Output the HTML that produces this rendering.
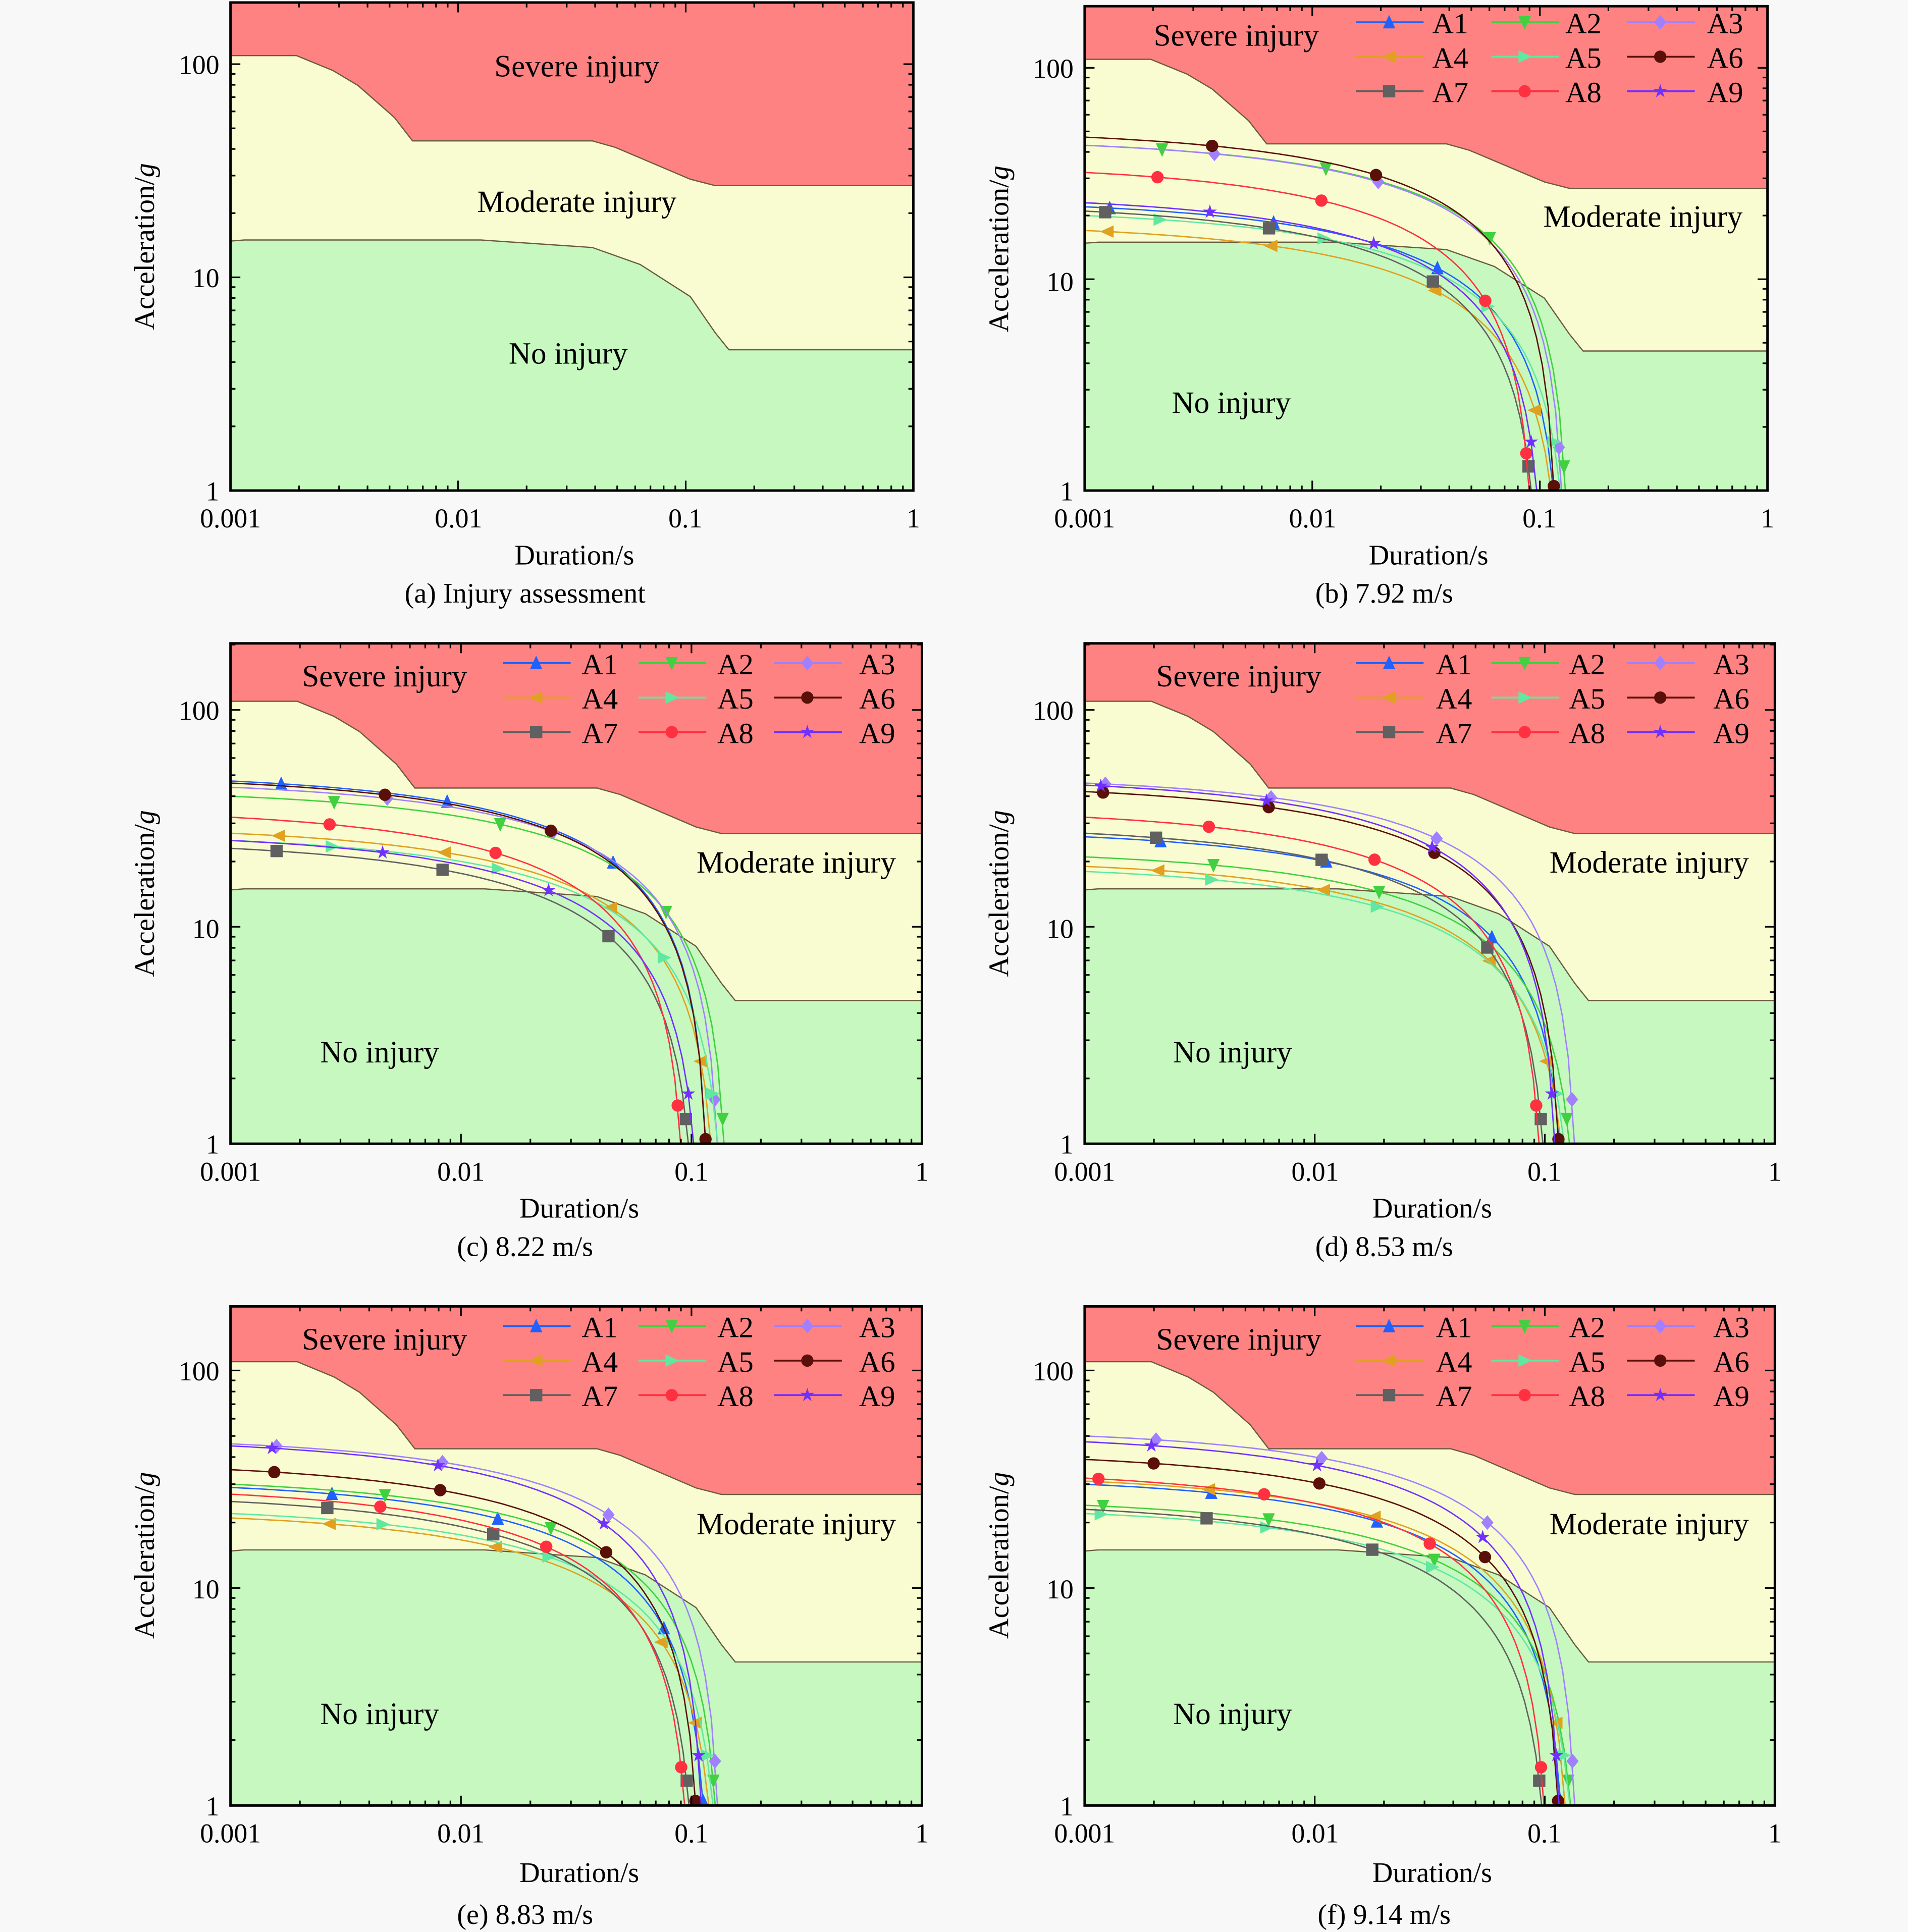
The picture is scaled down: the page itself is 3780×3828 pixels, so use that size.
<!DOCTYPE html>
<html><head><meta charset="utf-8"><style>
html,body{margin:0;padding:0;background:#f8f8f8;}
svg{display:block;}
text{font-family:"Liberation Serif",serif;fill:#000;}
.rl{font-size:25px;text-anchor:middle;}
.tk{font-size:22px;}
.tx{text-anchor:middle;}
.ty{text-anchor:end;}
.ax{font-size:23px;text-anchor:middle;}
.lg{font-size:24px;}
</style></head><body>
<svg id="s" width="3780" height="3828" viewBox="0 0 1548 1567.6" xmlns="http://www.w3.org/2000/svg">
<rect x="0" y="0" width="1548" height="1568" fill="#f8f8f8"/>
<g id="plots"></g>
<g id="texts">
<text class="rl" x="468" y="62">Severe injury</text>
<text class="rl" x="468" y="172">Moderate injury</text>
<text class="rl" x="461" y="295">No injury</text>
<text class="tk ty" x="178" y="60">100</text><text class="tk ty" x="178" y="233">10</text><text class="tk ty" x="178" y="406">1</text>
<text class="tk tx" x="187" y="428">0.001</text><text class="tk tx" x="372" y="428">0.01</text><text class="tk tx" x="556" y="428">0.1</text><text class="tk tx" x="741" y="428">1</text>
<text class="ax" x="466" y="458">Duration/s</text>
<text class="ax" x="426" y="489">(a) Injury assessment</text>
<text class="ax" transform="translate(125,200) rotate(-90)">Acceleration/<tspan font-style="italic">g</tspan></text>
<text class="rl" x="1003" y="37">Severe injury</text>
<text class="rl" x="1333" y="184">Moderate injury</text>
<text class="rl" x="999" y="335">No injury</text>
<text class="tk ty" x="871" y="63">100</text><text class="tk ty" x="871" y="236">10</text><text class="tk ty" x="871" y="406">1</text>
<text class="tk tx" x="880" y="428">0.001</text><text class="tk tx" x="1065" y="428">0.01</text><text class="tk tx" x="1249" y="428">0.1</text><text class="tk tx" x="1434" y="428">1</text>
<text class="ax" x="1159" y="458">Duration/s</text>
<text class="ax" x="1123" y="489">(b) 7.92 m/s</text>
<text class="ax" transform="translate(818,202) rotate(-90)">Acceleration/<tspan font-style="italic">g</tspan></text>
<text class="rl" x="312" y="557">Severe injury</text>
<text class="rl" x="646" y="708">Moderate injury</text>
<text class="rl" x="308" y="862">No injury</text>
<text class="tk ty" x="178" y="584">100</text><text class="tk ty" x="178" y="761">10</text><text class="tk ty" x="178" y="936">1</text>
<text class="tk tx" x="187" y="958">0.001</text><text class="tk tx" x="374" y="958">0.01</text><text class="tk tx" x="561" y="958">0.1</text><text class="tk tx" x="748" y="958">1</text>
<text class="ax" x="470" y="988">Duration/s</text>
<text class="ax" x="426" y="1019">(c) 8.22 m/s</text>
<text class="ax" transform="translate(125,725) rotate(-90)">Acceleration/<tspan font-style="italic">g</tspan></text>
<text class="rl" x="1005" y="557">Severe injury</text>
<text class="rl" x="1338" y="708">Moderate injury</text>
<text class="rl" x="1000" y="862">No injury</text>
<text class="tk ty" x="871" y="584">100</text><text class="tk ty" x="871" y="761">10</text><text class="tk ty" x="871" y="936">1</text>
<text class="tk tx" x="880" y="958">0.001</text><text class="tk tx" x="1067" y="958">0.01</text><text class="tk tx" x="1253" y="958">0.1</text><text class="tk tx" x="1440" y="958">1</text>
<text class="ax" x="1162" y="988">Duration/s</text>
<text class="ax" x="1123" y="1019">(d) 8.53 m/s</text>
<text class="ax" transform="translate(818,725) rotate(-90)">Acceleration/<tspan font-style="italic">g</tspan></text>
<text class="rl" x="312" y="1095">Severe injury</text>
<text class="rl" x="646" y="1245">Moderate injury</text>
<text class="rl" x="308" y="1399">No injury</text>
<text class="tk ty" x="178" y="1120">100</text><text class="tk ty" x="178" y="1297">10</text><text class="tk ty" x="178" y="1473">1</text>
<text class="tk tx" x="187" y="1495">0.001</text><text class="tk tx" x="374" y="1495">0.01</text><text class="tk tx" x="561" y="1495">0.1</text><text class="tk tx" x="748" y="1495">1</text>
<text class="ax" x="470" y="1527">Duration/s</text>
<text class="ax" x="426" y="1561">(e) 8.83 m/s</text>
<text class="ax" transform="translate(125,1262) rotate(-90)">Acceleration/<tspan font-style="italic">g</tspan></text>
<text class="rl" x="1005" y="1095">Severe injury</text>
<text class="rl" x="1338" y="1245">Moderate injury</text>
<text class="rl" x="1000" y="1399">No injury</text>
<text class="tk ty" x="871" y="1120">100</text><text class="tk ty" x="871" y="1297">10</text><text class="tk ty" x="871" y="1473">1</text>
<text class="tk tx" x="880" y="1495">0.001</text><text class="tk tx" x="1067" y="1495">0.01</text><text class="tk tx" x="1253" y="1495">0.1</text><text class="tk tx" x="1440" y="1495">1</text>
<text class="ax" x="1162" y="1527">Duration/s</text>
<text class="ax" x="1123" y="1561">(f) 9.14 m/s</text>
<text class="ax" transform="translate(818,1262) rotate(-90)">Acceleration/<tspan font-style="italic">g</tspan></text>
<g class="lg">
<text x="1162" y="27">A1</text><text x="1270" y="27">A2</text><text x="1385" y="27">A3</text>
<text x="1162" y="55">A4</text><text x="1270" y="55">A5</text><text x="1385" y="55">A6</text>
<text x="1162" y="83">A7</text><text x="1270" y="83">A8</text><text x="1385" y="83">A9</text>
<text x="1165" y="547">A1</text><text x="1273" y="547">A2</text><text x="1390" y="547">A3</text>
<text x="1165" y="575">A4</text><text x="1273" y="575">A5</text><text x="1390" y="575">A6</text>
<text x="1165" y="603">A7</text><text x="1273" y="603">A8</text><text x="1390" y="603">A9</text>
<text x="1165" y="1085">A1</text><text x="1273" y="1085">A2</text><text x="1390" y="1085">A3</text>
<text x="1165" y="1113">A4</text><text x="1273" y="1113">A5</text><text x="1390" y="1113">A6</text>
<text x="1165" y="1141">A7</text><text x="1273" y="1141">A8</text><text x="1390" y="1141">A9</text>
<text x="472" y="547">A1</text><text x="582" y="547">A2</text><text x="697" y="547">A3</text>
<text x="472" y="575">A4</text><text x="582" y="575">A5</text><text x="697" y="575">A6</text>
<text x="472" y="603">A7</text><text x="582" y="603">A8</text><text x="697" y="603">A9</text>
<text x="472" y="1085">A1</text><text x="582" y="1085">A2</text><text x="697" y="1085">A3</text>
<text x="472" y="1113">A4</text><text x="582" y="1113">A5</text><text x="697" y="1113">A6</text>
<text x="472" y="1141">A7</text><text x="582" y="1141">A8</text><text x="697" y="1141">A9</text>
</g>
</g>
</svg>
<script>
var P=[
{x0:187,x1:741,yb:398,dec:173,top:2,S:null},
{x0:880,x1:1434,yb:398,dec:171.5,top:5,S:[[22,.125],[43,.135],[43,.13],[17,.125],[20,.135],[47,.12],[21,.1],[32,.095],[23,.105]],L:[1100,18]},
{x0:187,x1:748,yb:928,dec:176,top:522,S:[[47,.12],[40,.145],[44,.135],[27,.13],[25,.14],[46,.12],[23,.105],[32,.095],[25,.11]],L:[408,538]},
{x0:880,x1:1440,yb:928,dec:176,top:522,S:[[26,.125],[21,.14],[46,.14],[19,.13],[18,.135],[42,.12],[27,.105],[32,.1],[45,.115]],L:[1100,538]},
{x0:187,x1:748,yb:1465,dec:176.5,top:1060,S:[[29,.12],[30,.135],[46,.135],[21,.13],[22,.135],[35,.11],[25,.105],[27,.1],[45,.115]],L:[408,1076]},
{x0:880,x1:1440,yb:1465,dec:176.5,top:1060,S:[[30,.125],[24,.14],[50,.14],[31,.13],[22,.14],[39,.12],[23,.105],[32,.105],[47,.12]],L:[1100,1076]}
];
var COL=["#1f60ff","#40d040","#a080ff","#e0a020","#60e8a0","#5a1008","#606060","#ff3040","#7030ff"];
var MK=["tu","td","di","tl","tr","ci","sq","ci","st"];
var SEV=[[0,2.04],[0.29,2.04],[0.45,1.97],[0.56,1.90],[0.72,1.75],[0.80,1.64],[1.59,1.64],[1.69,1.61],[2.02,1.46],[2.13,1.43],[3,1.43]];
var NOI=[[0,1.17],[0.06,1.175],[1.10,1.175],[1.59,1.14],[1.80,1.06],[2.02,0.91],[2.13,0.74],[2.19,0.66],[3,0.66]];
var out="";
function mk(t,x,y,c){var r=5;
 if(t=="ci")return '<circle cx="'+x+'" cy="'+y+'" r="'+r+'" fill="'+c+'"/>';
 if(t=="sq")return '<rect x="'+(x-r)+'" y="'+(y-r)+'" width="'+2*r+'" height="'+2*r+'" fill="'+c+'"/>';
 var pts;
 if(t=="tu")pts=[[0,-r-1],[r,r],[-r,r]];
 if(t=="td")pts=[[0,r+1],[r,-r],[-r,-r]];
 if(t=="tl")pts=[[-r-1,0],[r,-r],[r,r]];
 if(t=="tr")pts=[[r+1,0],[-r,-r],[-r,r]];
 if(t=="di")pts=[[0,-r-1],[r,0],[0,r+1],[-r,0]];
 if(t=="st"){pts=[];for(var k=0;k<10;k++){var a=-Math.PI/2+k*Math.PI/5,rr=k%2?r*0.45:r+1;pts.push([rr*Math.cos(a),rr*Math.sin(a)]);}}
 return '<polygon points="'+pts.map(function(p){return (x+p[0]).toFixed(1)+','+(y+p[1]).toFixed(1)}).join(' ')+'" fill="'+c+'"/>';
}
P.forEach(function(p,pi){
 var W=(p.x1-p.x0)/3;
 function X(u){return p.x0+u*W;} function Y(v){return p.yb-v*p.dec;}
 var cid="c"+pi;
 out+='<clipPath id="'+cid+'"><rect x="'+p.x0+'" y="'+p.top+'" width="'+(p.x1-p.x0)+'" height="'+(p.yb-p.top)+'"/></clipPath>';
 out+='<g clip-path="url(#'+cid+')">';
 out+='<rect x="'+p.x0+'" y="'+p.top+'" width="'+(p.x1-p.x0)+'" height="'+(p.yb-p.top)+'" fill="#f8fcd0"/>';
 var sp=SEV.map(function(q){return X(q[0]).toFixed(1)+','+Y(q[1]).toFixed(1)}).join(' ');
 out+='<polygon points="'+X(0)+','+(p.top-5)+' '+sp+' '+X(3)+','+(p.top-5)+'" fill="#ff8282"/>';
 var np=NOI.map(function(q){return X(q[0]).toFixed(1)+','+Y(q[1]).toFixed(1)}).join(' ');
 out+='<polygon points="'+X(0)+','+(p.yb+5)+' '+np+' '+X(3)+','+(p.yb+5)+'" fill="#c6f8c0"/>';
 out+='<polyline points="'+sp+'" fill="none" stroke="#6a5a40" stroke-width="1"/>';
 out+='<polyline points="'+np+'" fill="none" stroke="#6a5a40" stroke-width="1"/>';
 if(p.S){
  p.S.forEach(function(s,i){
   var T=s[1],c=COL[i];
   var A=s[0]/(1-Math.sqrt(0.001/T));
   var tend=T*Math.pow(1-1/A,2);var pts=[];
   for(var k=0;k<=80;k++){var u=k/80*(Math.log10(tend)+3);var t=Math.pow(10,u-3);var g=A*(1-Math.sqrt(t/T));if(g<1)g=1;pts.push(X(u).toFixed(1)+','+Y(Math.log10(g)).toFixed(1));}
   out+='<polyline points="'+pts.join(' ')+'" fill="none" stroke="'+c+'" stroke-width="1.1"/>';
   var ue=Math.log10(tend)+3;
   var u0=(i*0.23+pi*0.11)%0.7;
   for(var u=u0;u<ue-0.15;u+=0.72){var t=Math.pow(10,u-3),g=A*(1-Math.sqrt(t/T));out+=mk(MK[i],X(u),Y(Math.log10(g)),c);}
   var gg=[1.05,1.3,1.6,2.4,1.7,1.05,1.3,1.5,1.7][i];var tt=T*Math.pow(1-gg/A,2);
   out+=mk(MK[i],X(Math.log10(tt)+3),Y(Math.log10(gg)),c);
  });
 }
 out+='</g>';
 var tk="";
 for(var d=0;d<3;d++)for(var m=1;m<=10;m++){var u=d+Math.log10(m);var x=X(u);var L=(m==1||m==10)?8:4;
  tk+='M'+x+','+p.yb+'v-'+L+'M'+x+','+p.top+'v'+L;}
 var vmax=(p.yb-p.top)/p.dec;
 for(var d=0;d<3;d++)for(var m=1;m<10;m++){var v=d+Math.log10(m);if(v>vmax)continue;var y=Y(v);var L=(m==1)?8:4;
  tk+='M'+p.x0+','+y+'h'+L+'M'+p.x1+','+y+'h-'+L;}
 out+='<path d="'+tk+'" stroke="#000" stroke-width="1.3" fill="none"/>';
 out+='<rect x="'+p.x0+'" y="'+p.top+'" width="'+(p.x1-p.x0)+'" height="'+(p.yb-p.top)+'" fill="none" stroke="#000" stroke-width="2"/>';
 if(p.L){
  var cx=[p.L[0],p.L[0]+110,p.L[0]+220];
  for(var i=0;i<9;i++){var x=cx[i%3],y=p.L[1]+Math.floor(i/3)*28;
   out+='<line x1="'+x+'" y1="'+y+'" x2="'+(x+55)+'" y2="'+y+'" stroke="'+COL[i]+'" stroke-width="1.5"/>';
   out+=mk(MK[i],x+27,y,COL[i]);}
 }
});
document.getElementById("plots").innerHTML=out;
</script>
</body></html>
